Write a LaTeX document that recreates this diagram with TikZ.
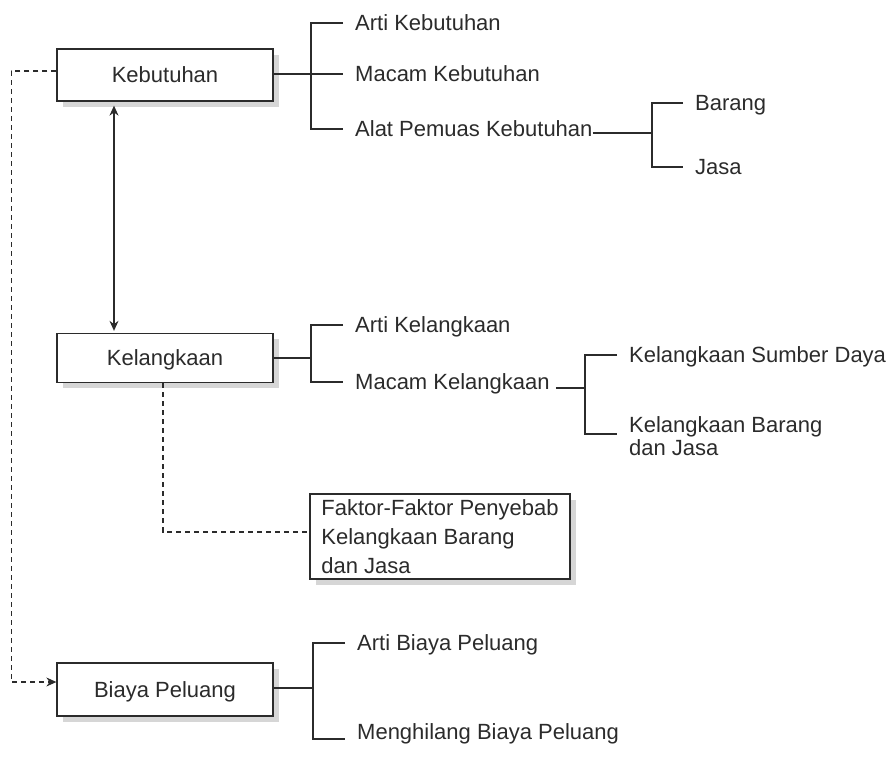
\documentclass[tikz,border=0pt]{standalone}
\usepackage{fontspec}
\setmainfont{Liberation Sans}
\usetikzlibrary{arrows.meta,shadows,calc}
\definecolor{ink}{HTML}{2B2B2B}
\definecolor{shade}{HTML}{D6D6D6}
\begin{document}
\begin{tikzpicture}[x=1pt,y=-1pt,
  every node/.style={text=ink},
  box/.style={draw=ink, line width=1.3pt, fill=white, inner sep=0pt,
    font=\fontsize{22}{26}\selectfont,
    drop shadow={shadow xshift=5.5pt, shadow yshift=-5.5pt, fill=shade, opacity=1}},
  topic/.style={box, minimum width=216pt, text height=15.75pt, text depth=0pt},
  item/.style={anchor=west, inner sep=0pt, text height=15.75pt, text depth=0pt,
    font=\fontsize{22}{26}\selectfont},
  link/.style={draw=ink, line width=1.2pt},
  dash link/.style={link, dash pattern=on 5pt off 4pt},
  tip/.style={-{Stealth[length=10pt,width=9pt]}},
  both tips/.style={{Stealth[length=10pt,width=9pt]}-{Stealth[length=10pt,width=9pt]}}
]
\useasboundingbox (0,0) rectangle (892,758);

% main topics
\node[topic, minimum height=52pt] (keb) at (165,75) {Kebutuhan};
\node[topic, minimum height=49pt] (kel) at (165,358) {Kelangkaan};
\node[topic, minimum height=53pt] (bp) at (165,689.5) {Biaya Peluang};
\node[box, inner xsep=11pt, minimum width=260pt, minimum height=85pt, align=left,
  font=\fontsize{22}{29}\selectfont] (fak) at (440,536.5)
  {Faktor-Faktor Penyebab\\Kelangkaan Barang\\dan Jasa};

% sub-topics
\node[item] (arti1) at (355,23) {Arti Kebutuhan};
\node[item] (macam1) at (355,74) {Macam Kebutuhan};
\node[item] (alat) at (355,129) {Alat Pemuas Kebutuhan};
\node[item] (barang) at (695,103) {Barang};
\node[item] (jasa) at (695,167) {Jasa};
\node[item] (arti2) at (355,325) {Arti Kelangkaan};
\node[item] (macam2) at (355,382) {Macam Kelangkaan};
\node[item] (ksd) at (629,355) {Kelangkaan Sumber Daya};
\node[anchor=north west, inner sep=0pt, align=left, font=\fontsize{22}{23}\selectfont]
  (kbj) at (629,416) {Kelangkaan Barang\\dan Jasa};
\node[item] (arti3) at (357,643) {Arti Biaya Peluang};
\node[item] (mbp) at (357,732) {Menghilang Biaya Peluang};

% branch points
\coordinate (j1) at (311,74);
\coordinate (j2) at (652,133);
\coordinate (j3) at (311,358);
\coordinate (j4) at (585,388);
\coordinate (j5) at (313,688);

% Kebutuhan
\draw[link] (keb.east |- j1) -- (j1);
\draw[link] ([xshift=-12pt]arti1.west) -| (j1) |- ([xshift=-12pt]alat.west);
\draw[link] (j1) -- ([xshift=-12pt]macam1.west);
\draw[link] ([yshift=-4pt]alat.east) -- (j2);
\draw[link] ([xshift=-12pt]barang.west) -| (j2) |- ([xshift=-12pt]jasa.west);

% Kelangkaan
\draw[link] (kel.east) -- (j3);
\draw[link] ([xshift=-12pt]arti2.west) -| (j3) |- ([xshift=-12pt]macam2.west);
\draw[link] ([xshift=6pt,yshift=-6pt]macam2.east) -- (j4);
\draw[link] ([xshift=-12pt]ksd.west) -| (j4) |- ($(kbj.north west)+(-12,18)$);

% Biaya Peluang
\draw[link] (bp.east |- j5) -- (j5);
\draw[link] ([xshift=-12pt]arti3.west) -| (j5) |- ([xshift=-12pt,yshift=-7pt]mbp.west);

% relations between topics
\draw[link, both tips] ([xshift=-51pt,yshift=-4pt]keb.south) -- ([xshift=-51pt,yshift=2pt]kel.north);
\draw[dash link, tip] ([yshift=4pt]keb.west) -- ++(-45,0) |- ([yshift=7.5pt]bp.west);
\draw[dash link] ([xshift=-2pt]kel.south) |- ([yshift=4.5pt]fak.west);
\end{tikzpicture}
\end{document}
